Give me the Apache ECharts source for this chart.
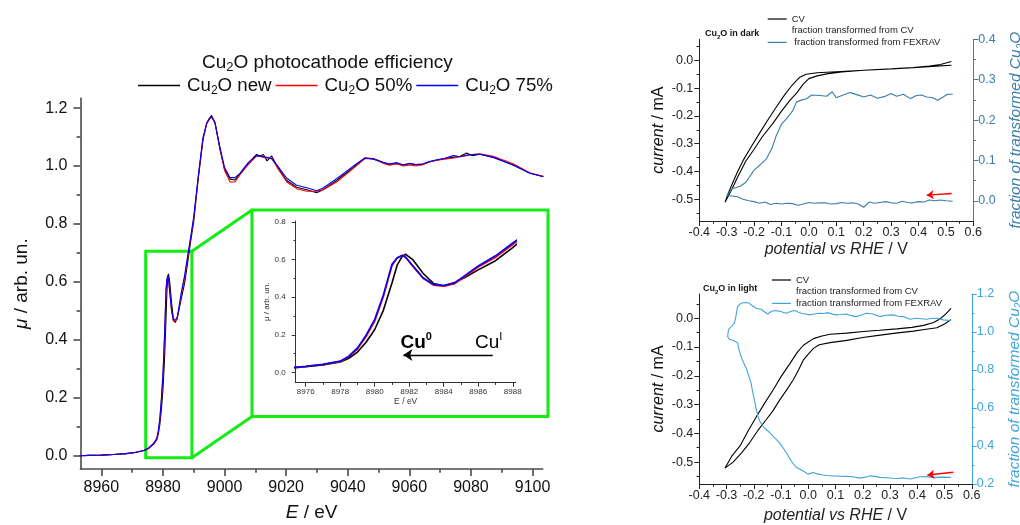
<!DOCTYPE html>
<html>
<head>
<meta charset="utf-8">
<script src="https://cdn.jsdelivr.net/npm/echarts@6/dist/echarts.min.js"></script>
<style>
  html, body { margin: 0; padding: 0; background: #fff; }
  #c { width: 1020px; height: 525px; }
</style>
</head>
<body>
<div id="c"></div>
<script>
// ---------- XANES spectra (Cu K edge) ----------
const energy = [8953, 8956, 8960, 8964, 8968, 8971, 8974, 8975.4, 8976, 8977, 8978, 8978.5, 8979, 8979.5,
  8980, 8980.5, 8981, 8981.3, 8981.6, 8981.8, 8982.2, 8982.8, 8983.4, 8984, 8984.6, 8985.2, 8986, 8987,
  8988, 8989, 8990, 8991.5, 8993, 8994.2, 8995, 8995.8, 8996.9, 8998.5, 9000, 9001.8, 9003.4, 9005,
  9007.7, 9010.4, 9011.5, 9012.6, 9013.8, 9015.3, 9017.4, 9020.2, 9023.4, 9026.7, 9029.9, 9032, 9036.4,
  9041.8, 9045.6, 9048.3, 9051.5, 9053.5, 9055.9, 9058, 9060.2, 9062, 9064.5, 9066.5, 9068.9, 9071.5,
  9074.3, 9076.5, 9078.6, 9080.5, 9082.9, 9087.2, 9093.7, 9099.2, 9103.5];

const muNew = [0.000, 0.001, 0.002, 0.004, 0.007, 0.011, 0.018, 0.025, 0.030, 0.040, 0.055, 0.075, 0.108, 0.160,
  0.228, 0.330, 0.475, 0.570, 0.618, 0.628, 0.600, 0.527, 0.473, 0.460, 0.476, 0.503, 0.545, 0.594,
  0.664, 0.740, 0.810, 0.960, 1.090, 1.148, 1.163, 1.175, 1.150, 1.058, 0.990, 0.955, 0.952, 0.973,
  1.010, 1.040, 1.035, 1.040, 1.018, 1.035, 0.993, 0.950, 0.927, 0.918, 0.908, 0.918, 0.950,
  0.995, 1.028, 1.026, 1.012, 1.006, 1.008, 1.004, 1.008, 1.005, 1.006, 1.014, 1.020, 1.026,
  1.030, 1.034, 1.045, 1.036, 1.041, 1.031, 1.004, 0.975, 0.964];

const mu50 = [0.000, 0.001, 0.002, 0.004, 0.007, 0.011, 0.019, 0.026, 0.031, 0.042, 0.058, 0.083, 0.124, 0.190,
  0.272, 0.402, 0.567, 0.608, 0.623, 0.610, 0.565, 0.500, 0.464, 0.458, 0.470, 0.508, 0.560, 0.612,
  0.680, 0.750, 0.820, 0.965, 1.095, 1.145, 1.160, 1.170, 1.152, 1.062, 0.985, 0.945, 0.945, 0.970,
  1.005, 1.035, 1.033, 1.030, 1.028, 1.028, 0.990, 0.945, 0.922, 0.913, 0.913, 0.918, 0.945,
  0.992, 1.026, 1.025, 1.010, 1.003, 1.008, 1.000, 1.004, 1.000, 1.005, 1.015, 1.020, 1.024,
  1.028, 1.032, 1.036, 1.040, 1.042, 1.034, 1.008, 0.976, 0.965];

const mu75 = [0.000, 0.001, 0.002, 0.004, 0.007, 0.011, 0.019, 0.027, 0.032, 0.043, 0.060, 0.086, 0.130, 0.198,
  0.282, 0.412, 0.575, 0.610, 0.622, 0.612, 0.568, 0.503, 0.468, 0.462, 0.475, 0.513, 0.566, 0.620,
  0.688, 0.755, 0.825, 0.968, 1.098, 1.148, 1.162, 1.170, 1.148, 1.065, 0.995, 0.960, 0.960, 0.975,
  1.012, 1.036, 1.034, 1.033, 1.030, 1.025, 0.998, 0.958, 0.934, 0.925, 0.915, 0.924, 0.956,
  1.000, 1.028, 1.024, 1.013, 1.007, 1.012, 1.004, 1.010, 1.005, 1.008, 1.016, 1.022, 1.027,
  1.036, 1.032, 1.038, 1.040, 1.041, 1.030, 1.004, 0.975, 0.963];

// region of the spectrum that is enlarged in the inset [eV], [mu]
const zoomEnergy = [8974.4, 8989.4];
const zoomMu = [-0.007, 0.706];

// ---------- tick values ----------
const mainEnergyTicks = [8960, 8980, 9000, 9020, 9040, 9060, 9080, 9100];
const mainEnergyMinor = [8970, 8990, 9010, 9030, 9050, 9070, 9090];
const mainMuTicks = [0, 0.2, 0.4, 0.6, 0.8, 1.0, 1.2];
const mainMuMinor = [0.1, 0.3, 0.5, 0.7, 0.9, 1.1];
const insetEnergyTicks = [8976, 8978, 8980, 8982, 8984, 8986, 8988];
const insetEnergyMinor = [8977, 8979, 8981, 8983, 8985, 8987];
const insetMuTicks = [0, 0.2, 0.4, 0.6, 0.8];
const insetMuMinor = [0.1, 0.3, 0.5, 0.7];
const potentialTicks = [-0.4, -0.3, -0.2, -0.1, 0, 0.1, 0.2, 0.3, 0.4, 0.5, 0.6];
const potentialMinor = [-0.35, -0.25, -0.15, -0.05, 0.05, 0.15, 0.25, 0.35, 0.45, 0.55];
const currentTicks = [-0.5, -0.4, -0.3, -0.2, -0.1, 0];
const currentMinor = [-0.55, -0.45, -0.35, -0.25, -0.15, -0.05, 0.05];
const fracDarkTicks = [0, 0.1, 0.2, 0.3, 0.4];
const fracDarkMinor = [0.05, 0.15, 0.25, 0.35];
const fracLightTicks = [0.2, 0.4, 0.6, 0.8, 1.0, 1.2];
const fracLightMinor = [0.3, 0.5, 0.7, 0.9, 1.1];

// ---------- Cu2O in dark: CV loop [potential V, current mA] ----------
const darkCV = [[0.52,-0.018],[0.45,-0.022],[0.38,-0.027],[0.30,-0.031],[0.20,-0.036],[0.12,-0.042],[0.07,-0.048],
  [0.03,-0.056],[0.00,-0.066],[-0.02,-0.085],[-0.045,-0.118],[-0.07,-0.145],[-0.10,-0.183],[-0.13,-0.225],
  [-0.17,-0.275],[-0.20,-0.320],[-0.23,-0.362],[-0.26,-0.420],[-0.28,-0.462],[-0.295,-0.490],[-0.306,-0.511],
  [-0.295,-0.480],[-0.28,-0.445],[-0.26,-0.400],[-0.24,-0.360],[-0.21,-0.310],[-0.18,-0.262],[-0.15,-0.215],
  [-0.12,-0.170],[-0.09,-0.126],[-0.06,-0.088],[-0.035,-0.062],[-0.01,-0.050],[0.03,-0.045],[0.10,-0.041],
  [0.20,-0.036],[0.30,-0.031],[0.38,-0.026],[0.44,-0.021],[0.48,-0.015],[0.50,-0.010],[0.52,-0.004]];

// Cu2O in dark: fraction transformed from FEXRAV [potential V, fraction]
const darkFexrav = [[0.525,-0.001],[0.50,0.000],[0.48,0.002],[0.46,0.000],[0.44,0.002],[0.42,-0.003],[0.40,-0.002],
  [0.38,-0.005],[0.36,-0.004],[0.34,-0.001],[0.32,-0.006],[0.30,-0.005],[0.28,-0.002],[0.26,-0.004],[0.24,-0.006],
  [0.22,-0.003],[0.20,-0.016],[0.18,-0.008],[0.16,-0.005],[0.14,-0.006],[0.12,-0.004],[0.10,-0.007],[0.08,-0.008],
  [0.06,-0.005],[0.04,-0.005],[0.02,-0.006],[0.00,-0.004],[-0.02,-0.008],[-0.04,-0.011],[-0.06,-0.007],
  [-0.08,-0.006],[-0.10,-0.008],[-0.12,-0.006],[-0.14,-0.009],[-0.16,-0.003],[-0.18,-0.006],[-0.20,-0.002],
  [-0.22,0.000],[-0.24,0.004],[-0.26,0.010],[-0.28,0.012],[-0.30,0.012],
  [-0.28,0.030],[-0.25,0.036],[-0.23,0.046],[-0.20,0.076],[-0.18,0.088],[-0.155,0.104],[-0.135,0.130],
  [-0.12,0.160],[-0.10,0.190],[-0.08,0.205],[-0.06,0.222],[-0.045,0.245],[-0.025,0.250],[-0.01,0.252],
  [0.01,0.262],[0.04,0.261],[0.065,0.259],[0.085,0.270],[0.10,0.255],[0.125,0.262],[0.15,0.268],[0.175,0.263],
  [0.20,0.257],[0.225,0.262],[0.25,0.254],[0.275,0.258],[0.30,0.266],[0.32,0.259],[0.345,0.264],[0.37,0.253],
  [0.39,0.260],[0.41,0.262],[0.43,0.257],[0.45,0.256],[0.47,0.249],[0.49,0.257],[0.505,0.264],[0.525,0.264]];

// ---------- Cu2O in light: CV loop ----------
const lightCV = [[0.524,-0.005],[0.50,-0.020],[0.472,-0.033],[0.42,-0.040],[0.386,-0.045],[0.32,-0.052],
  [0.264,-0.059],[0.20,-0.067],[0.141,-0.077],[0.08,-0.085],[0.04,-0.092],[0.019,-0.105],[0.0,-0.125],
  [-0.018,-0.145],[-0.035,-0.178],[-0.055,-0.214],[-0.08,-0.250],[-0.104,-0.283],[-0.13,-0.322],[-0.154,-0.352],
  [-0.185,-0.390],[-0.215,-0.432],[-0.245,-0.468],[-0.276,-0.500],[-0.306,-0.521],
  [-0.28,-0.478],[-0.25,-0.443],[-0.22,-0.390],[-0.189,-0.340],[-0.16,-0.295],[-0.128,-0.248],[-0.10,-0.203],
  [-0.067,-0.157],[-0.04,-0.118],[-0.018,-0.094],[0.019,-0.071],[0.05,-0.062],[0.08,-0.056],[0.141,-0.052],
  [0.203,-0.046],[0.26,-0.042],[0.325,-0.037],[0.38,-0.032],[0.423,-0.025],[0.46,-0.015],[0.484,-0.002],
  [0.505,0.015],[0.524,0.034]];

// Cu2O in light: fraction transformed from FEXRAV
const lightFexrav = [[0.523,0.235],[0.49,0.236],[0.458,0.235],[0.43,0.239],[0.409,0.238],[0.39,0.232],[0.373,0.226],
  [0.35,0.232],[0.33,0.229],[0.311,0.230],[0.285,0.233],[0.262,0.235],[0.245,0.240],[0.226,0.243],[0.21,0.236],
  [0.189,0.231],[0.165,0.238],[0.14,0.240],[0.115,0.241],[0.09,0.243],[0.07,0.245],[0.054,0.247],[0.035,0.252],
  [0.017,0.261],[-0.001,0.252],[-0.02,0.270],[-0.044,0.287],[-0.063,0.322],[-0.081,0.366],[-0.095,0.395],
  [-0.106,0.418],[-0.125,0.446],[-0.142,0.471],[-0.155,0.488],[-0.167,0.505],[-0.178,0.530],[-0.185,0.558],
  [-0.192,0.600],[-0.198,0.645],[-0.205,0.690],[-0.21,0.732],[-0.22,0.775],[-0.228,0.811],[-0.238,0.840],
  [-0.247,0.872],[-0.255,0.910],[-0.259,0.942],[-0.275,0.955],[-0.290,0.962],[-0.296,0.976],[-0.293,1.012],
  [-0.285,1.025],[-0.271,1.047],[-0.266,1.080],[-0.262,1.115],[-0.259,1.133],[-0.25,1.148],[-0.241,1.154],
  [-0.228,1.155],[-0.216,1.151],[-0.205,1.138],[-0.191,1.125],[-0.173,1.120],[-0.16,1.105],[-0.149,1.095],
  [-0.136,1.108],[-0.124,1.113],[-0.106,1.110],[-0.093,1.104],[-0.081,1.099],[-0.065,1.108],[-0.05,1.113],
  [-0.038,1.105],[-0.026,1.099],[-0.01,1.095],[0.005,1.090],[0.02,1.095],[0.042,1.099],[0.057,1.097],
  [0.072,1.102],[0.088,1.094],[0.103,1.090],[0.12,1.092],[0.14,1.095],[0.158,1.086],[0.176,1.081],[0.195,1.090],
  [0.213,1.099],[0.238,1.095],[0.262,1.081],[0.285,1.088],[0.311,1.090],[0.33,1.083],[0.348,1.081],[0.373,1.067],
  [0.397,1.072],[0.415,1.070],[0.434,1.067],[0.452,1.071],[0.471,1.072],[0.495,1.064],[0.523,1.060]];

// scan direction arrows [start, end] in data coordinates
const darkArrow = [[0.521, 0.018], [0.43, 0.014]];
const lightArrow = [[0.532, 0.262], [0.437, 0.247]];
// Cu(I) -> Cu(0) arrow in the inset
const shiftArrow = [[8986.84, 0.092], [8981.66, 0.092]];
const cu0Pos = [8982.4, 0.158];
const cu1Pos = [8986.6, 0.158];

// ---------- styling ----------
const FONT = "'Liberation Sans', Arial, Helvetica, sans-serif";
const GREEN = '#14ec14';
const STEEL = '#3b7ea8';
const SKY = '#3fa5dd';
const AXIS = '#4a4a4a';

function pairs(xs, ys) { return xs.map((x, i) => [x, ys[i]]); }
const fmt1 = v => v.toFixed(1);
const fmt0 = v => String(v);

function majorAxis(o) {
  return {
    type: 'value', gridIndex: o.grid, position: o.position, min: o.min, max: o.max,
    axisLine: { show: true, onZero: false, lineStyle: { color: o.color, width: o.lw } },
    axisTick: { show: true, customValues: o.ticks, length: o.tl, lineStyle: { color: o.color, width: o.lw } },
    axisLabel: { show: true, customValues: o.ticks, formatter: o.fmt, color: o.labelColor || o.color,
      fontSize: o.fs, fontFamily: FONT, margin: o.margin, hideOverlap: false },
    splitLine: { show: false },
    name: o.name || '', nameLocation: 'middle', nameGap: o.nameGap, nameRotate: o.nameRotate,
    nameMoveOverlap: false,
    nameTextStyle: o.nameStyle || {}
  };
}
function minorAxis(o) {
  return {
    type: 'value', gridIndex: o.grid, position: o.position, min: o.min, max: o.max,
    axisLine: { show: false, onZero: false },
    axisTick: { show: true, customValues: o.minor, length: o.tl * 0.55, lineStyle: { color: o.color, width: o.lw } },
    axisLabel: { show: false },
    splitLine: { show: false }
  };
}
function axisPair(o) { return [majorAxis(o), minorAxis(o)]; }

// rich-text styles: n normal, i italic, s subscript, si italic subscript, f normal with a small left pad
const subRich = (size, color) => {
  const base = { fontFamily: FONT, color: color, fontWeight: 'normal' };
  const sub = Math.round(size * 0.66);
  return {
    n: Object.assign({ fontSize: size, lineHeight: size + 4 }, base),
    f: Object.assign({ fontSize: size, lineHeight: size + 4, padding: [0, 0, 0, 2] }, base),
    i: Object.assign({ fontSize: size, lineHeight: size + 4, fontStyle: 'italic' }, base),
    s: Object.assign({ fontSize: sub, lineHeight: Math.round(size * 0.5), verticalAlign: 'bottom' }, base),
    si: Object.assign({ fontSize: sub, lineHeight: Math.round(size * 0.5), verticalAlign: 'bottom', fontStyle: 'italic' }, base)
  };
};

// ---------- axes ----------
const mainX = { grid: 0, position: 'bottom', min: 8953.2, max: 9103.3, ticks: mainEnergyTicks, minor: mainEnergyMinor,
  color: AXIS, labelColor: '#111', lw: 1.6, tl: 7, fs: 16, margin: 11, fmt: fmt0,
  name: '{i|E}{n| / eV}', nameGap: 32, nameStyle: { rich: subRich(19, '#111') } };
const mainY = { grid: 0, position: 'left', min: -0.046, max: 1.234, ticks: mainMuTicks, minor: mainMuMinor,
  color: AXIS, labelColor: '#111', lw: 1.6, tl: 7, fs: 16, margin: 13, fmt: fmt1,
  name: '{i|μ}{n| / arb. un.}', nameGap: 47, nameRotate: 90, nameStyle: { rich: subRich(19, '#111') } };
const insetX = { grid: 1, position: 'bottom', min: 8975.42, max: 8988.17, ticks: insetEnergyTicks, minor: insetEnergyMinor,
  color: '#333', lw: 1, tl: 4, fs: 8, margin: 5, fmt: fmt0,
  name: 'E / eV', nameGap: 14, nameStyle: { fontSize: 8.5, fontFamily: FONT, color: '#333' } };
const insetY = { grid: 1, position: 'left', min: -0.055, max: 0.805, ticks: insetMuTicks, minor: insetMuMinor,
  color: '#333', lw: 1, tl: 4, fs: 8, margin: 10, fmt: fmt1,
  name: 'μ / arb. un.', nameGap: 25, nameRotate: 90, nameStyle: { fontSize: 8, fontFamily: FONT, color: '#333' } };

const potName = '{i|potential vs RHE}{n| / V}';
const darkX = { grid: 2, position: 'bottom', min: -0.4, max: 0.6, ticks: potentialTicks, minor: potentialMinor,
  color: '#222', lw: 1, tl: 5, fs: 12.5, margin: 5, fmt: fmt1,
  name: potName, nameGap: 19, nameStyle: { rich: subRich(16, '#222') } };
const darkYL = { grid: 2, position: 'left', min: -0.578, max: 0.0755, ticks: currentTicks, minor: currentMinor,
  color: '#222', lw: 1, tl: 5, fs: 12.5, margin: 6, fmt: fmt1,
  name: '{i|current}{n| / mA}', nameGap: 31, nameRotate: 90, nameStyle: { rich: subRich(16, '#111') } };
const darkYR = { grid: 2, position: 'right', min: -0.05, max: 0.4, ticks: fracDarkTicks, minor: fracDarkMinor,
  color: STEEL, lw: 1, tl: 5, fs: 12.5, margin: 5, fmt: fmt1,
  name: '{i|fraction of transformed Cu}{si|2}{i|O}', nameGap: 33, nameRotate: 90, nameStyle: { rich: subRich(15.5, STEEL) } };
const lightX = { grid: 3, position: 'bottom', min: -0.4, max: 0.6, ticks: potentialTicks, minor: potentialMinor,
  color: '#222', lw: 1, tl: 5, fs: 12.5, margin: 5, fmt: fmt1,
  name: potName, nameGap: 22, nameStyle: { rich: subRich(16, '#222') } };
const lightYL = { grid: 3, position: 'left', min: -0.576, max: 0.084, ticks: currentTicks, minor: currentMinor,
  color: '#222', lw: 1, tl: 5, fs: 12.5, margin: 6, fmt: fmt1,
  name: '{i|current}{n| / mA}', nameGap: 31, nameRotate: 90, nameStyle: { rich: subRich(16, '#111') } };
const lightYR = { grid: 3, position: 'right', min: 0.2, max: 1.2, ticks: fracLightTicks, minor: fracLightMinor,
  color: SKY, lw: 1, tl: 5, fs: 12.5, margin: 5, fmt: fmt1,
  name: '{i|fraction of transformed Cu}{si|2}{i|O}', nameGap: 33, nameRotate: 90, nameStyle: { rich: subRich(15.5, SKY) } };

const xAxes = [].concat(axisPair(mainX), axisPair(insetX), axisPair(darkX), axisPair(lightX));
const yAxes = [].concat(axisPair(mainY), axisPair(insetY), axisPair(darkYL), axisPair(darkYR), axisPair(lightYL), axisPair(lightYR));

// ---------- series ----------
const spectra = [
  { name: 'Cu2O new', color: '#000000', data: muNew },
  { name: 'Cu2O 50%', color: '#ff0000', data: mu50 },
  { name: 'Cu2O 75%', color: '#0000ff', data: mu75 }
];
const series = [];
spectra.forEach((s, k) => {
  series.push({
    name: s.name, type: 'line', xAxisIndex: 0, yAxisIndex: 0, data: pairs(energy, s.data),
    symbol: 'none', lineStyle: { color: s.color, width: 1.1 }, itemStyle: { color: s.color }, z: 3,
    markArea: k === 0 ? {
      silent: true, z: 1,
      itemStyle: { color: 'rgba(0,0,0,0)', borderColor: GREEN, borderWidth: 3 },
      label: { show: false },
      data: [[{ coord: [zoomEnergy[0], zoomMu[0]] }, { coord: [zoomEnergy[1], zoomMu[1]] }]]
    } : undefined
  });
});
spectra.forEach((s, k) => {
  series.push({
    name: s.name, type: 'line', xAxisIndex: 2, yAxisIndex: 2, data: pairs(energy, s.data),
    symbol: 'none', lineStyle: { color: s.color, width: 1.6 }, itemStyle: { color: s.color }, z: 3,
    markLine: k === 0 ? {
      silent: true, symbol: ['none', 'arrow'], symbolSize: 9,
      lineStyle: { color: '#000', width: 1.3, type: 'solid' }, label: { show: false },
      data: [[{ coord: shiftArrow[0] }, { coord: shiftArrow[1] }]]
    } : undefined,
    markPoint: k === 0 ? {
      silent: true, symbol: 'circle', symbolSize: 1, itemStyle: { color: 'rgba(0,0,0,0)' },
      label: { show: true, position: 'inside',
        rich: {
          b: { fontSize: 19, fontWeight: 'bold', fontFamily: FONT, color: '#000', lineHeight: 22 },
          n: { fontSize: 19, fontWeight: 'normal', fontFamily: FONT, color: '#000', lineHeight: 22 },
          pb: { fontSize: 11, fontWeight: 'bold', fontFamily: FONT, color: '#000', lineHeight: 10, verticalAlign: 'top' },
          p: { fontSize: 11, fontWeight: 'normal', fontFamily: FONT, color: '#000', lineHeight: 10, verticalAlign: 'top' }
        } },
      data: [
        { coord: cu0Pos, label: { formatter: '{b|Cu}{pb|0}' } },
        { coord: cu1Pos, label: { formatter: '{n|Cu}{p|I}' } }
      ]
    } : undefined
  });
});

const arrowLine = pts => ({
  silent: true, symbol: ['none', 'arrow'], symbolSize: 7,
  lineStyle: { color: '#ff0000', width: 1.4, type: 'solid' }, label: { show: false },
  data: [[{ coord: pts[0] }, { coord: pts[1] }]]
});

series.push(
  { name: 'CV', type: 'line', xAxisIndex: 4, yAxisIndex: 4, data: darkCV, symbol: 'none',
    lineStyle: { color: '#000', width: 1.1 }, itemStyle: { color: '#000' } },
  { name: 'fraction transformed from CV', type: 'line', xAxisIndex: 4, yAxisIndex: 6, data: [], symbol: 'none',
    lineStyle: { color: 'rgba(0,0,0,0)' }, itemStyle: { color: 'rgba(0,0,0,0)' } },
  { name: ' fraction transformed from FEXRAV', type: 'line', xAxisIndex: 4, yAxisIndex: 6, data: darkFexrav, symbol: 'none',
    lineStyle: { color: STEEL, width: 1.1 }, itemStyle: { color: STEEL }, markLine: arrowLine(darkArrow) },
  { name: 'CV ', type: 'line', xAxisIndex: 6, yAxisIndex: 8, data: lightCV, symbol: 'none',
    lineStyle: { color: '#000', width: 1.1 }, itemStyle: { color: '#000' } },
  { name: 'fraction transformed from CV ', type: 'line', xAxisIndex: 6, yAxisIndex: 10, data: [], symbol: 'none',
    lineStyle: { color: 'rgba(0,0,0,0)' }, itemStyle: { color: 'rgba(0,0,0,0)' } },
  { name: 'fraction transformed from FEXRAV', type: 'line', xAxisIndex: 6, yAxisIndex: 10, data: lightFexrav, symbol: 'none',
    lineStyle: { color: SKY, width: 1.1 }, itemStyle: { color: SKY }, markLine: arrowLine(lightArrow) }
);

const smallLegend = (names, left, top) => ({
  data: names, orient: 'vertical', left: left, top: top, padding: 0, icon: 'rect',
  itemWidth: 19, itemHeight: 1.2, itemGap: 1.7, selectedMode: false,
  textStyle: { fontSize: 9.5, fontFamily: FONT, color: '#222', lineHeight: 10 }
});

const panelRich = {
  b: { fontSize: 9, fontWeight: 'bold', fontFamily: FONT, color: '#111', lineHeight: 12 },
  s: { fontSize: 6, fontWeight: 'bold', fontFamily: FONT, color: '#111', lineHeight: 5, verticalAlign: 'bottom' }
};

const option = {
  animation: false,
  backgroundColor: '#ffffff',
  grid: [
    { left: 80.4, top: 98.3, width: 462.3, height: 370.7, outerBoundsMode: 'none', containLabel: false },
    { left: 295.7, top: 221, width: 220, height: 161.7, outerBoundsMode: 'none', containLabel: false },
    { left: 699.3, top: 39.3, width: 274, height: 181.7, outerBoundsMode: 'none', containLabel: false },
    { left: 699.3, top: 294, width: 272.5, height: 190, outerBoundsMode: 'none', containLabel: false }
  ],
  title: [
    { text: '{n|Cu}{s|2}{n|O photocathode efficiency}', left: 202, top: 51, padding: 0,
      textStyle: { fontWeight: 'normal', rich: subRich(19, '#111') } },
    { text: '{b|Cu}{s|2}{b|O in dark}', left: 705, top: 28, padding: 0, textStyle: { rich: panelRich } },
    { text: '{b|Cu}{s|2}{b|O in light}', left: 703, top: 283, padding: 0, textStyle: { rich: panelRich } }
  ],
  legend: [
    { data: spectra.map(s => s.name), left: 138, top: 76, padding: 0, icon: 'rect',
      itemWidth: 42, itemHeight: 1.3, itemGap: 4, selectedMode: false,
      formatter: name => name.replace('Cu2O', '{f|Cu}{s|2}{n|O') + '}',
      textStyle: { rich: subRich(18.7, '#111') } },
    smallLegend(['CV', 'fraction transformed from CV', ' fraction transformed from FEXRAV'], 767.7, 14),
    smallLegend(['CV ', 'fraction transformed from CV ', 'fraction transformed from FEXRAV'], 772, 275)
  ],
  xAxis: xAxes,
  yAxis: yAxes,
  series: series
};

const chart = echarts.init(document.getElementById('c'), null, { renderer: 'canvas' });
chart.setOption(option);

// inset frame and the two connector lines from the zoom window
const frame = { x: 252, y: 210, w: 296, h: 206.5 };
const cTop = chart.convertToPixel({ xAxisIndex: 0, yAxisIndex: 0 }, [zoomEnergy[1], zoomMu[1]]);
const cBot = chart.convertToPixel({ xAxisIndex: 0, yAxisIndex: 0 }, [zoomEnergy[1], zoomMu[0]]);
chart.setOption({
  graphic: [
    { type: 'rect', shape: { x: frame.x, y: frame.y, width: frame.w, height: frame.h },
      style: { fill: 'none', stroke: GREEN, lineWidth: 3 }, silent: true, z: 10 },
    { type: 'line', shape: { x1: cTop[0], y1: cTop[1], x2: frame.x, y2: frame.y },
      style: { stroke: GREEN, lineWidth: 3 }, silent: true, z: 10 },
    { type: 'line', shape: { x1: cBot[0], y1: cBot[1], x2: frame.x, y2: frame.y + frame.h },
      style: { stroke: GREEN, lineWidth: 3 }, silent: true, z: 10 }
  ]
});
</script>
</body>
</html>
